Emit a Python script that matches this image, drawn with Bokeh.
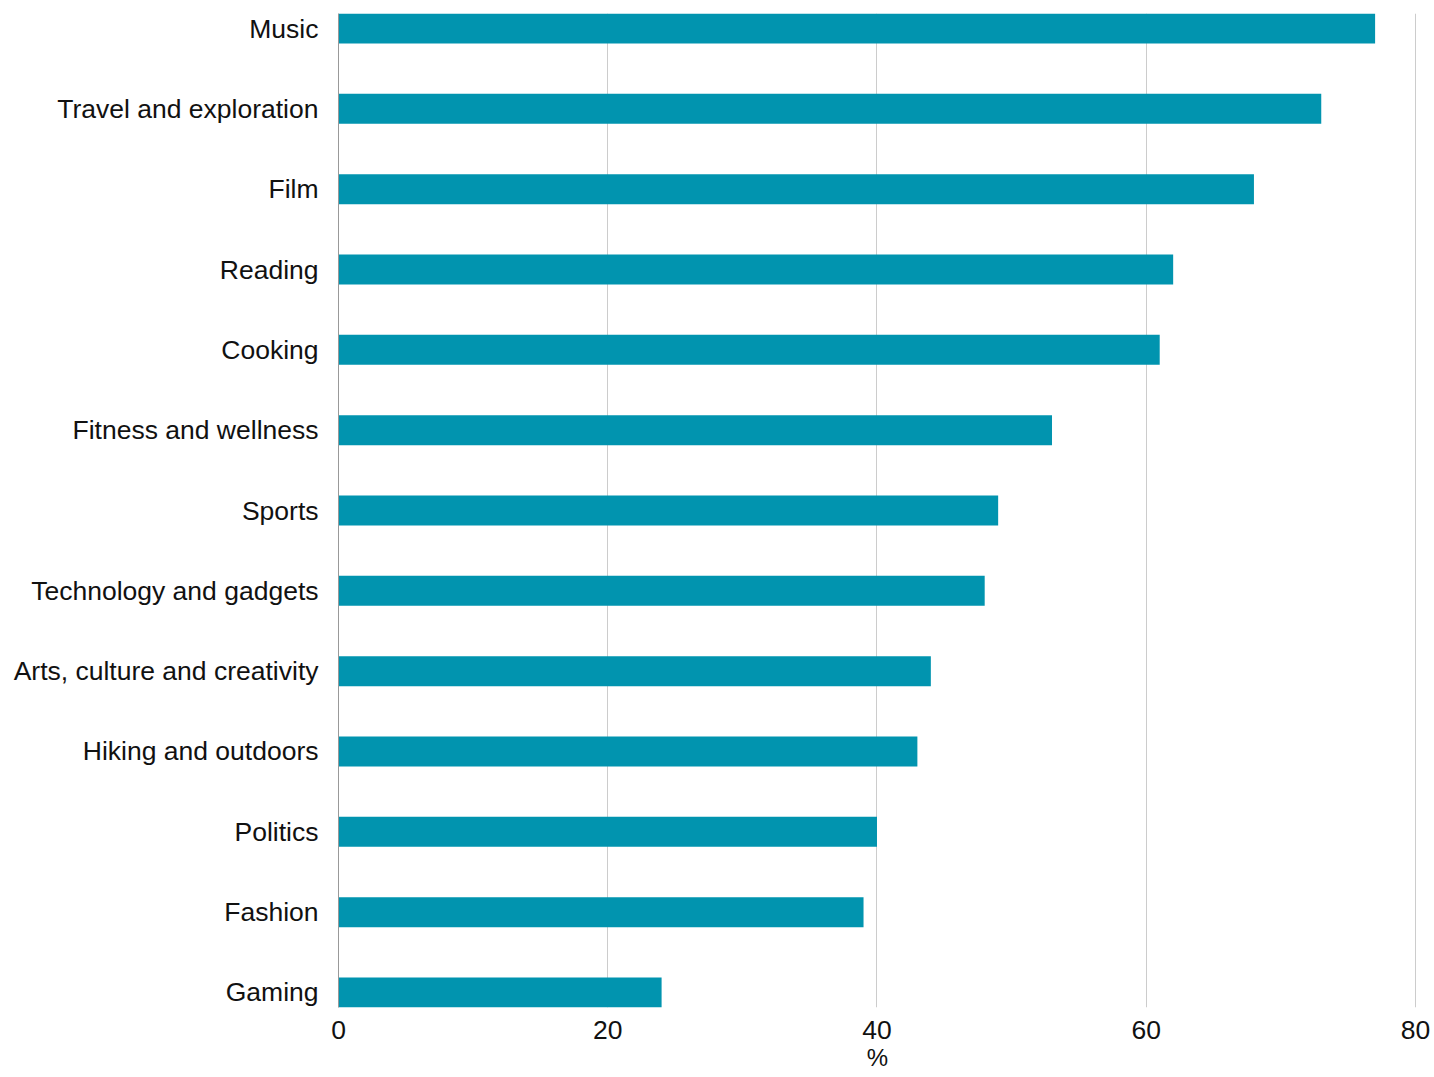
from bokeh.plotting import figure
from bokeh.models import Range1d, FixedTicker, ColumnDataSource
from bokeh.embed import file_html
from bokeh.resources import INLINE

categories = ["Music", "Travel and exploration", "Film", "Reading", "Cooking",
              "Fitness and wellness", "Sports", "Technology and gadgets",
              "Arts, culture and creativity", "Hiking and outdoors", "Politics",
              "Fashion", "Gaming"]
values = [77, 73, 68, 62, 61, 53, 49, 48, 44, 43, 40, 39, 24]
x_ticks = [0, 20, 40, 60, 80]

n = len(categories)
ypos = [n - 1 - i for i in range(n)]
src = ColumnDataSource(dict(y=ypos, v=values, c=categories))

p = figure(width=1432, height=1077, output_backend="svg", toolbar_location=None,
           x_range=Range1d(0, 80.075), y_range=Range1d(-0.1868, n - 1 + 0.1868),
           min_border_left=338, min_border_right=16, min_border_top=13, min_border_bottom=70)
p.outline_line_color = None
p.background_fill_color = "white"
p.border_fill_color = "white"

p.hbar(y="y", left=0, right="v", height=0.3736, source=src,
       fill_color="#0194AF", line_color=None)

font = "Liberation Sans"
p.xaxis.ticker = FixedTicker(ticks=x_ticks)
p.xaxis.axis_line_color = None
p.xaxis.major_tick_line_color = None
p.xaxis.minor_tick_line_color = None
p.xaxis.major_label_text_font = font
p.xaxis.major_label_text_font_size = "26.5px"
p.xaxis.major_label_text_color = "#111111"
p.xaxis.major_label_standoff = 7
p.xaxis.axis_label = "%"
p.xaxis.axis_label_text_font = font
p.xaxis.axis_label_text_font_size = "24px"
p.xaxis.axis_label_text_font_style = "normal"
p.xaxis.axis_label_text_color = "#111111"
p.xaxis.axis_label_standoff = 2

p.yaxis.ticker = FixedTicker(ticks=ypos)
p.yaxis.major_label_overrides = {y: c for y, c in zip(ypos, categories)}
p.yaxis.axis_line_color = "#999999"
p.yaxis.major_tick_line_color = None
p.yaxis.minor_tick_line_color = None
p.yaxis.major_label_text_font = font
p.yaxis.major_label_text_font_size = "26.5px"
p.yaxis.major_label_text_color = "#111111"
p.yaxis.major_label_standoff = 14

p.xgrid.grid_line_color = "#CCCCCC"
p.ygrid.grid_line_color = None

open("out.html", "w").write(file_html(p, INLINE))
